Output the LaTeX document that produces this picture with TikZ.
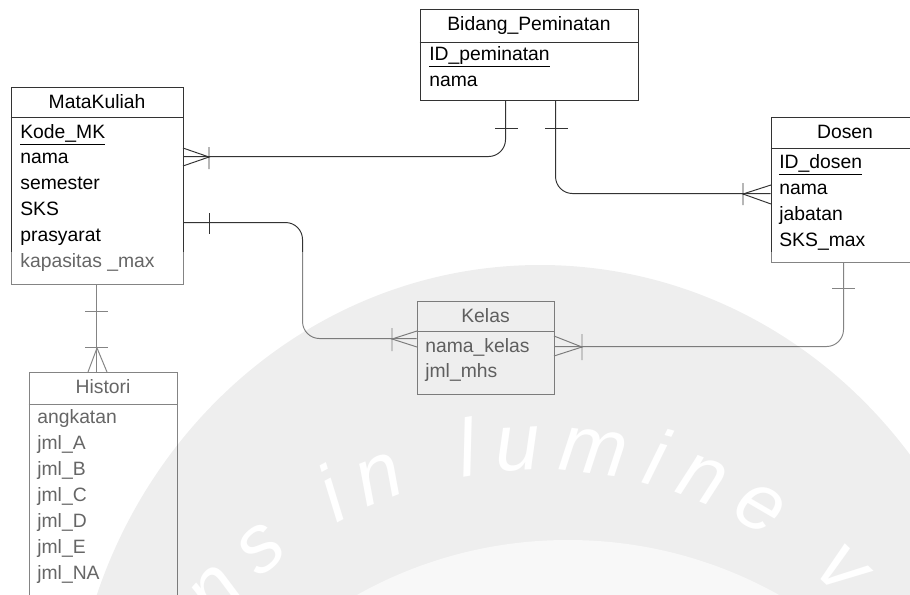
\documentclass[tikz,border=0pt]{standalone}
\usepackage{fontspec}
\setmainfont{Liberation Sans}
\usetikzlibrary{calc,fit,decorations.text}
\definecolor{linecol}{HTML}{333333}
\newcommand{\erfont}{\fontsize{11}{13}\selectfont}
\newcommand{\wmfont}{\fontsize{46}{46}\selectfont\itshape}
\tikzset{
  entity/.style={draw=linecol, line width=0.55pt, inner sep=0pt},
  title/.style={font=\erfont, inner sep=0pt, text height=8pt, text depth=2.2pt},
  attr/.style={title, anchor=west},
  rel/.style={draw=linecol, line width=0.55pt, rounded corners=0.34cm},
  foot/.style={draw=linecol, line width=0.55pt}
}
\begin{document}
\begin{tikzpicture}[x=0.02cm, y=-0.02cm]
    \useasboundingbox (0,0) rectangle (910,595);
    \clip (0,0) rectangle (910,595);

    % Entitas MataKuliah
    \coordinate (mk-nw) at (11,87); \coordinate (mk-se) at (183,284);
    \node[entity, fit=(mk-nw)(mk-se)] (mk) {};
    \draw[foot] ($(mk.north west)+(0,31)$) -- ($(mk.north east)+(0,31)$);
    \node[title] (mk-t) at ($(mk.north)+(0,17)$) {MataKuliah};
    \foreach \a [count=\i] in {\underline{Kode\_MK}, nama, semester, SKS, prasyarat, kapasitas \_max}
        \node[attr] (mk-\i) at (20,{107.2+\i*25.8}) {\a};

    % Entitas Bidang_Peminatan
    \coordinate (bd-nw) at (420,9); \coordinate (bd-se) at (638,100);
    \node[entity, fit=(bd-nw)(bd-se)] (bd) {};
    \draw[foot] ($(bd.north west)+(0,34)$) -- ($(bd.north east)+(0,34)$);
    \node[title] (bd-t) at ($(bd.north)+(0,17)$) {Bidang\_Peminatan};
    \foreach \a [count=\i] in {\underline{ID\_peminatan}, nama}
        \node[attr] (bd-\i) at (429,{29+\i*26}) {\a};

    % Entitas Dosen
    \coordinate (ds-nw) at (771,117); \coordinate (ds-se) at (919,262);
    \node[entity, fit=(ds-nw)(ds-se)] (ds) {};
    \draw[foot] ($(ds.north west)+(0,32)$) -- ($(ds.north east)+(0,32)$);
    \node[title] (ds-t) at ($(ds.north)+(0,17)$) {Dosen};
    \foreach \a [count=\i] in {\underline{ID\_dosen}, nama, jabatan, SKS\_max}
        \node[attr] (ds-\i) at (779,{137+\i*26}) {\a};

    % Entitas Kelas
    \coordinate (kl-nw) at (417,301); \coordinate (kl-se) at (554,394);
    \node[entity, fit=(kl-nw)(kl-se)] (kl) {};
    \draw[foot] ($(kl.north west)+(0,31)$) -- ($(kl.north east)+(0,31)$);
    \node[title] (kl-t) at ($(kl.north)+(0,17)$) {Kelas};
    \foreach \a [count=\i] in {nama\_kelas, jml\_mhs}
        \node[attr] (kl-\i) at (425,{322+\i*25}) {\a};

    % Entitas Histori
    \coordinate (hs-nw) at (29,372); \coordinate (hs-se) at (177,612);
    \node[entity, fit=(hs-nw)(hs-se)] (hs) {};
    \draw[foot] ($(hs.north west)+(0,33)$) -- ($(hs.north east)+(0,33)$);
    \node[title] (hs-t) at ($(hs.north)+(0,17)$) {Histori};
    \foreach \a [count=\i] in {angkatan, jml\_A, jml\_B, jml\_C, jml\_D, jml\_E, jml\_NA}
        \node[attr] (hs-\i) at (37,{392+\i*26}) {\a};

    % Relasi
    \draw[rel] ($(mk.north east)+(0,70)$) -| ($(bd.south west)+(86,0)$);
    \draw[rel] ($(bd.south west)+(136,0)$) |- ($(ds.north west)+(0,77)$);
    \draw[rel] ($(mk.north east)+(0,136)$) -| ($(kl.north west)+(-114,38)$) -- ($(kl.north west)+(0,38)$);
    \draw[rel] ($(kl.north east)+(0,46)$) -| ($(ds.south west)+(73,0)$);
    \draw[rel] ($(mk.south west)+(86,0)$) -- ($(hs.north west)+(68,0)$);

    % Kardinalitas
    \draw[foot] (183,148) -- (209,157) -- (183,166) (209,147) -- (209,169);
    \draw[foot] (495,128) -- (518,128);
    \draw[foot] (545,128) -- (568,128);
    \draw[foot] (771,185) -- (743,194) -- (771,204) (743,183) -- (743,205);
    \draw[foot] (209,213) -- (209,234);
    \draw[foot] (417,331) -- (392,339) -- (417,347) (392,328) -- (392,351);
    \draw[foot] (554,336) -- (582,347) -- (554,356) (582,334) -- (582,360);
    \draw[foot] (832,288) -- (855,288);
    \draw[foot] (85,311) -- (108,311) (85,347) -- (108,347);
    \draw[foot] (88,372) -- (97,348) -- (107,372);

    % Watermark
    \fill[white, opacity=0.4] (0,252) rectangle (910,595);
    \fill[black, opacity=0.065] (540,760) ellipse [x radius=470, y radius=495];
    \fill[white, opacity=0.6] (568,972) circle [radius=432];
    \path[decorate, decoration={text along path, text={|\wmfont|ns in lumine ve},
        text align={fit to path}, text color=white}]
        (540,885) ++(-141:415) arc [start angle=-141, end angle=-35, radius=415];
\end{tikzpicture}
\end{document}
